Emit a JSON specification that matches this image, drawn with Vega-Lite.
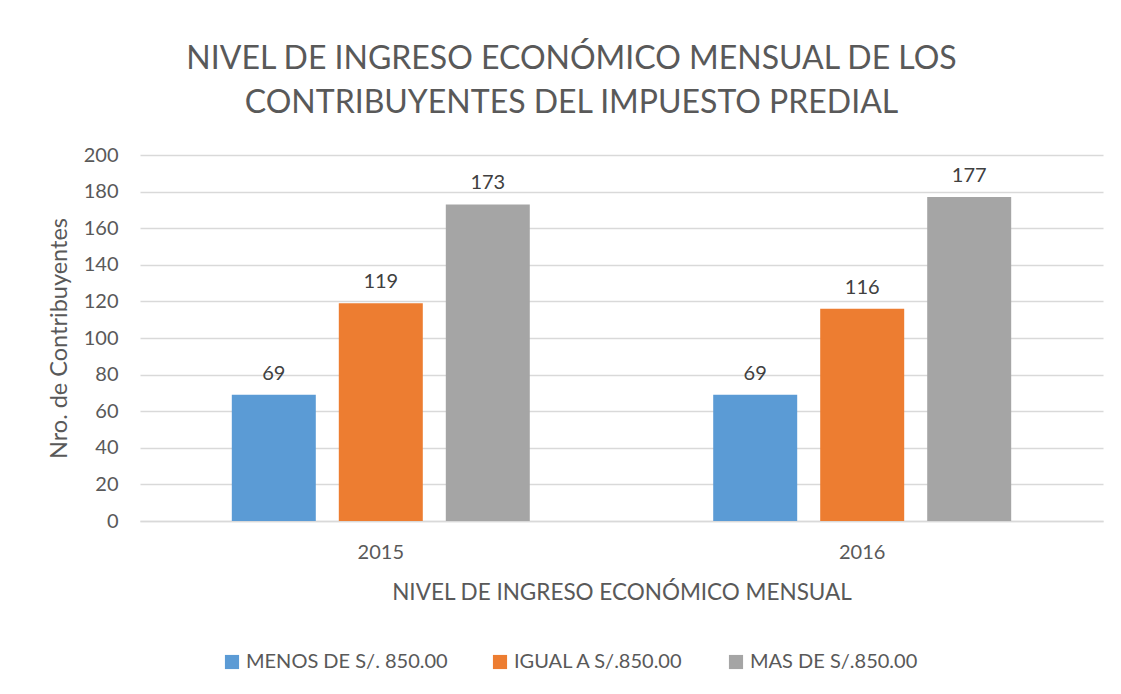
{
  "$schema": "https://vega.github.io/schema/vega-lite/v6.json",
  "autosize": "none",
  "width": 963,
  "height": 366,
  "padding": {"left": 140, "top": 155, "right": 18, "bottom": 173},
  "background": "white",
  "title": {
    "text": ["NIVEL DE INGRESO ECONÓMICO MENSUAL DE LOS", "CONTRIBUYENTES DEL IMPUESTO PREDIAL"],
    "font": "Lato",
    "fontSize": 32,
    "fontWeight": "normal",
    "color": "#595959",
    "lineHeight": 44,
    "anchor": "middle",
    "dx": -50,
    "offset": 25
  },
  "data": {
    "values": [
      {"year": "2015", "nivel": "MENOS DE S/. 850.00", "n": 69},
      {"year": "2015", "nivel": "IGUAL A S/.850.00", "n": 119},
      {"year": "2015", "nivel": "MAS DE S/.850.00", "n": 173},
      {"year": "2016", "nivel": "MENOS DE S/. 850.00", "n": 69},
      {"year": "2016", "nivel": "IGUAL A S/.850.00", "n": 116},
      {"year": "2016", "nivel": "MAS DE S/.850.00", "n": 177}
    ]
  },
  "encoding": {
    "x": {
      "field": "year", "type": "nominal",
      "scale": {"paddingInner": 0.333, "paddingOuter": 0.1667},
      "axis": {
        "title": "NIVEL DE INGRESO ECONÓMICO MENSUAL",
        "labelAngle": 0, "labelFont": "Lato", "labelFontSize": 20, "labelColor": "#595959",
        "labelPadding": 21, "ticks": false, "domainColor": "#d9d9d9", "domainWidth": 1.5,
        "titleFont": "Lato", "titleFontSize": 22.5, "titleFontWeight": "normal", "titleColor": "#595959",
        "titlePadding": 19
      }
    },
    "xOffset": {
      "field": "nivel", "type": "nominal",
      "sort": ["MENOS DE S/. 850.00", "IGUAL A S/.850.00", "MAS DE S/.850.00"],
      "scale": {"paddingInner": 0.215, "paddingOuter": 0.108}
    },
    "y": {
      "field": "n", "type": "quantitative",
      "scale": {"domain": [0, 200]},
      "axis": {
        "title": "Nro. de Contribuyentes",
        "values": [0, 20, 40, 60, 80, 100, 120, 140, 160, 180, 200],
        "labelFont": "Lato", "labelFontSize": 20, "labelColor": "#595959",
        "labelPadding": 22, "ticks": false, "domain": false,
        "gridColor": "#d9d9d9", "gridWidth": 1.5,
        "titleFont": "Lato", "titleFontSize": 23.5, "titleFontWeight": "normal", "titleColor": "#595959",
        "titlePadding": 12
      }
    }
  },
  "layer": [
    {
      "mark": {"type": "bar"},
      "encoding": {
        "color": {
          "field": "nivel", "type": "nominal",
          "sort": ["MENOS DE S/. 850.00", "IGUAL A S/.850.00", "MAS DE S/.850.00"],
          "scale": {"domain": ["MENOS DE S/. 850.00", "IGUAL A S/.850.00", "MAS DE S/.850.00"], "range": ["#5b9bd5", "#ed7d31", "#a5a5a5"]},
          "legend": {
            "title": null, "orient": "none", "direction": "horizontal",
            "legendX": 82, "legendY": 497,
            "symbolType": "square", "symbolSize": 200, "symbolStrokeWidth": 0,
            "labelFont": "Lato", "labelFontSize": 20, "labelColor": "#595959",
            "labelLimit": 0,
            "columnPadding": 42, "labelOffset": 4
          }
        }
      }
    },
    {
      "mark": {"type": "text", "baseline": "bottom", "dy": -11, "font": "Lato", "fontSize": 20, "color": "#404040"},
      "encoding": {"text": {"field": "n", "type": "quantitative"}}
    }
  ],
  "config": {"view": {"stroke": null}}
}
